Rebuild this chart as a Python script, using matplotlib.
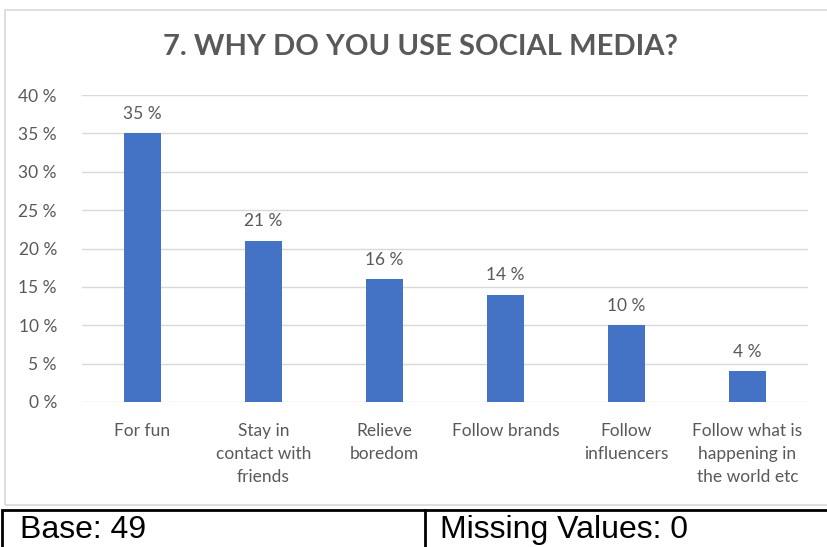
import matplotlib.pyplot as plt
from matplotlib.patches import Rectangle
from matplotlib.lines import Line2D

categories = ["For fun", "Stay in\ncontact with\nfriends", "Relieve\nboredom",
              "Follow brands", "Follow\ninfluencers", "Follow what is\nhappening in\nthe world etc"]
values = [35, 21, 16, 14, 10, 4]
yticks = [0, 5, 10, 15, 20, 25, 30, 35, 40]

grey = "#595959"
blue = "#4472C4"
font = "Lato"

fig = plt.figure(figsize=(8.27, 5.47), dpi=100)

# chart frame
fig.patches.append(Rectangle((5 / 827, 1 - 505 / 547), 830 / 827, 495 / 547,
                             transform=fig.transFigure, fill=False,
                             edgecolor="#d9d9d9", linewidth=1.2))

ax = fig.add_axes([82 / 827, 1 - 402 / 547, 726 / 827, 307 / 547])
x = range(len(values))
ax.bar(x, values, width=0.31, color=blue, zorder=3)
for xi, v in zip(x, values):
    ax.text(xi, v + 1.5, f"{v} %", ha="center", va="bottom", fontsize=12.5,
            color=grey, family=font)

ax.set_ylim(0, 40)
ax.set_xlim(-0.5, len(values) - 0.5)
ax.set_yticks(yticks)
ax.set_yticklabels([f"{t} %" for t in yticks], fontsize=12.5, color=grey, family=font)
ax.set_xticks(list(x))
ax.set_xticklabels(categories, fontsize=12.5, color=grey, family=font, va="top",
                   linespacing=1.55)
ax.tick_params(length=0, pad=15, axis="x")
ax.tick_params(length=0, pad=18, axis="y")
ax.grid(axis="y", color="#d9d9d9", linewidth=1, zorder=0)
for s in ax.spines.values():
    s.set_visible(False)

fig.text(420 / 827, 1 - 47 / 547, "7. WHY DO YOU USE SOCIAL MEDIA?", ha="center",
         va="center", fontsize=21, fontweight="bold", color=grey, family=font)

# bottom info box
fig.patches.append(Rectangle((2 / 827, -0.01), 830 / 827, 1 - 510 / 547 + 0.01,
                             transform=fig.transFigure, fill=False,
                             edgecolor="black", linewidth=2))
fig.lines.append(Line2D([425 / 827, 425 / 827], [0, 1 - 510 / 547],
                        transform=fig.transFigure, color="black", linewidth=2))
box_font = "Liberation Sans"
fig.text(20 / 827, 1 - 530 / 547, "Base: 49", ha="left", va="center",
         fontsize=23, color="black", family=box_font)
fig.text(440 / 827, 1 - 530 / 547, "Missing Values: 0", ha="left", va="center",
         fontsize=23, color="black", family=box_font)

fig.savefig("out.png", dpi=100)
